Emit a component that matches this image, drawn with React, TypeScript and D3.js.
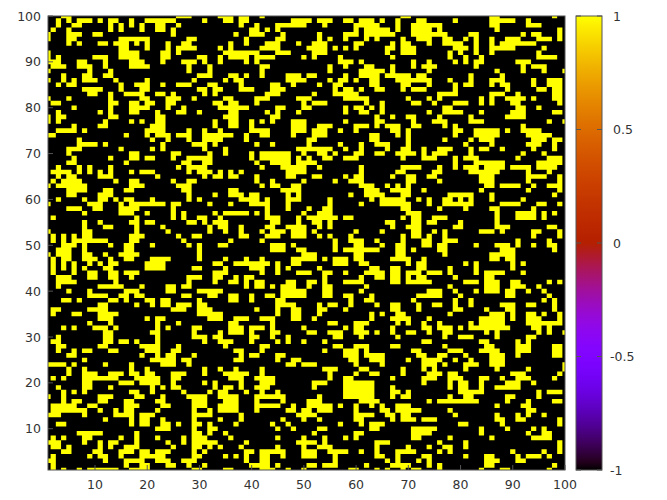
import React from "react";
import * as d3 from "d3";

// Cells equal to +1, listed per row from y=100 down to y=1, as x values or x ranges. All others are -1.
const onCells: string[] = [
"4-5 26-28 34-36 38-39 42 69-70 86-87 98",
"3 5 7-9 11 13-14 17 20-25 31 35-36 38-39 48-50 51 53-55 58-59 61-63 65 68 72-73 79 86-90 93",
"3 6-7 13 15 17 19 22-23 26 38 41 45-50 54 60-64 68 71-75 76 86-87 93-95",
"2 5 13 15 19 22-23 25 40-41 43 45 60 62-66 68 71-74 76 87 99",
"1 5-7 10-11 25 37 40-42 46 53 58-60 62-67 71-75 76-77 82-83 92 94-95 99",
"1 5-6 15-20 28-29 39 45-46 53 55 58 62 64 69 72-74 77-78 81 83 86 89-91 95-97 99",
"5 7 11-12 14-16 18 20 24 27-28 36 39 43-45 49 52-54 60-61 67 69-70 74 77-80 83 86 88-94",
"15-16 20 24 26-29 34 36 42-45 51 51-54 56 58 60 66-67 69-71 79-81 83 86-90 96",
"1 15-18 23-24 26 35-41 45-47 52-54 66 69-71 78 80 83 86 95",
"1 3 10-12 15-18 23-24 30-31 34 36-39 41-44 50 52 57 67 78 81 84 95-98",
"1-3 7-8 12 17-19 23 27-29 31 34 39 41 57-59 61 71 74 79 81 83-84 91-93",
"2-4 7-9 12 17-20 28 32 42-43 55 58 62-63 67 71 73-75 83 92 94-96",
"1 9 13 28 32 42 55 61-65 67 74 87 92 96 100",
"4 8-9 12-13 30-32 36-37 39 42 47-49 51-52 58 61-64 66-70 72-73 82 88",
"1 4 6 8-10 14 20 29 35 37-38 47-50 55 57-58 60 63-64 68-74 78 82 86-88 94 97-99",
"3 5-6 15 18-20 23 26-28 32-33 38 44-45 48 53 56-57 63-64 69-70 74 79 81-82 86 88-89 94 97-99",
"8-11 15 19-20 30-31 33-34 38-40 44-46 56 58-59 61 64-65 69 71-73 79 89 95-96 98-99",
"9-10 13 16-19 22-23 25 31 33 43-45 52 56-60 76-79 86-88 91 98-99",
"1 5 13 19-20 24-25 26 29 35-36 41-43 49-50 51 58-62 70 74 76 84 86 89-92 94 98-99",
"2-3 13-14 17-18 20-21 24-25 33-34 36-37 41 50 52-54 62 65 71-72 75 79-81 84 86 90-91 99",
"6 13 17-20 24 27 34-39 45-46 50 51 58 60-61 63 65 77-78 91-92 95",
"3 11 13 17-18 22 26-27 30 36-37 43 45 49 58 61-62 65 74 77-80 84 90-92 98-99",
"1 3-4 13-14 22-23 35-37 44-45 64 67 70-71 76 82 89-92",
"1 3 12 17 19 22-23 33 36-37 40 42 44 48-50 58 64-65 71 75 76-77 82-84 97 100",
"6 11-12 21-23 33 36-37 40 48-50 53-55 60-62 64 66-68 71-72 77 79 92",
"3-6 8 20-23 28 31 34 40-43 48-50 52-54 57 60 67-68 70 79-80 83-87 89 92-95",
"1-2 16 20 22-24 26-28 31-36 39 42-43 48 52-54 63-64 68 70 79 83-87 93-97",
"7 21 24 28 31-34 39 51-52 63-64 70 77 82 84-86 94-96 98-99",
"7-10 12 23 29-31 33 41 44 51 57 61 64-66 70 81 86 93-95 98",
"5-7 15 21 23 31 35 49-50 51-55 58 61 66 69-70 73 76-78 82 84-85 88 94 98",
"5 17-18 25-26 32 35 40 42-47 50 53-54 56 60-61 64-65 68-71 73 75-77 82 92 96",
"6 13 17-18 20-21 25 28-32 40 42-47 49 51 54-55 58-60 69 73-75 79 81-83 91 97-99",
"5-6 16 27-28 31-32 41 44-47 49-50 51-52 79 83-88 95-99",
"3 7 9 13 26 28-31 42 46-50 53 61 69-72 76 79 81-83 85-88 90-93 95-98",
"2-5 7 9 11 13 17 19-21 28 30-32 34 36 38 47-50 61 68-69 75-76 82-87 93 97",
"3 5-6 11-13 22 31 33-34 36-37 41 47-48 52-53 58 60-61 67 70-71 74-75 84-86 93-96 99",
"2 4-7 14 17-18 25 28-29 41 44 50 56 59-61 70-71 76 84-86 93 99",
"1 3-8 17-19 26-28 42 44-45 48-49 61-63 66 68 70 85-86 88-91 94 97-99",
"5-8 12-13 16-17 27-28 36-37 46-49 62-64 67-70 73 84 93 99",
"5-6 11-13 28 33 36-38 40-41 47 49 59 62-65 69-70 78-82 86 98",
"3 8 11-12 14 16-17 21 28 30 38-41 43 47-49 55 63 65-69 72 74 77-78 80 82 86 92",
"1 9-11 15 17-23 25 26 32 36 40-43 47 55 61 65-70 74 77-82 88-91 95-96 99",
"5-7 10-11 15-18 25 43 47 51 54-55 69-70 76 81 86-87 94",
"8 15-17 20 25 27 33 35-39 41 43 50 53-55 70-72 87 91-94 96 98",
"2 18 25 27 30-31 34 43-45 49 51-56 58-59 69 71-72 75-77 87 91-94 96",
"8 11 17-18 20-21 28-29 31 33-35 44-45 49 52-53 55 66-67 71-72 74-75 80 87",
"8 12-13 18 23 32 34-35 38 43-44 47-50 53 55 67 70-72 79-80 87-89 97-98",
"1 8-9 18 24 32 35 38 42 44-46 48-50 52 60 65 71-72 75 77 84-86 88 94-95 99",
"2 4 6 8-9 17-19 26 29-30 38-39 43-45 48-50 53 55 59 69 71-72 74 77 94 99",
"2 4 6-12 17-18 27 36 42 56 59-61 64 69 73-74 77-79 91 97",
"4-6 8 13 16-17 21 28 30 34-35 44-46 48 56 60-61 65 68-69 73-74 76-77 83 87-89 91 94 97-98",
"3-5 8 16-17 30 44-46 49-50 56 58-64 68-69 71 76-77 88-90 98",
"1 3-5 8-9 12 15-18 30 50 51-52 60-61 68-69 77 86-90",
"2 4-5 8-10 13 16-17 21-24 30 35 39 42 48-50 51-52 54 56-58 60-61 67-70 73 86-87 89-90",
"2 4 6 9 11 13-14 20-23 33-34 37-43 45 48-49 56-58 61-62 70 72-73 81 83 90 92",
"2 4 6 8 12-13 20-23 29-30 35 40-42 45 47 53 63-64 67-68 72-73 78 83 90",
"2 6 9-10 13-14 16-18 33-35 42 45 49-50 51 54-55 58 62-65 67-68 70-72 74-76 78 83 85-88 92",
"3-5 9-10 13-14 17 28-30 33-34 37 39-40 54 61 64-65 67-68 70 72-73 79 85-86",
"3-6 14 28 33 36-37 39 41-42 47-48 51-52 54 58-61 67-68 70-74 81-83 85-87 90-91 97 99",
"3 11-15 19 24-25 27-28 39 41-42 44 46-48 51 54-55 62 78 85-87 90-92 95",
"5 9 16-18 24-25 30-34 46-50 54-55 61 74-76 79 83 85-87 89-90 93 96",
"9-12 15-16 18-19 27-28 32-33 36-37 40 43-44 46-50 54-55 58-59 63 72-76 80 89-90 97",
"4-5 7 13-14 16 20-21 23-24 30 36-37 40 45-46 59 62-63 71 79 82 96 98",
"11-12 18 21 23-24 26-28 30-31 45-48 53 55-56 59 64 67-68 72 75-76 79 82 88-90 93-94 98",
"2-3 9-12 25-27 30-32 41 45 48-49 53-54 58 67-68 72 79-80 85 89-90 98",
"2 6-7 11-14 30-34 45 48-49 53 63 65 68-69 78 86-88 90 93-94 96 99",
"11-13 20 22-23 32-34 37-39 42-44 48-49 52 63 67-70 74 84-88 90 93-95 99",
"9 13 22 26 36-37 44 55-56 60-62 68 70 73 76 82 84-88 93-99",
"4 6 10-12 14 22 24 29-30 36-38 40-42 44 50 58 60-61 67 73-74 76-78 80 82-89 94-95 97",
"12-13 21-22 29 34 36-38 40 44-45 51-52 55-57 60-62 64 67 70-71 74 77-78 85 87 95 97 100",
"3 12-13 22 29-31 33-34 40-41 44 47 56-57 61 68 77 80-82 87 93-94",
"2-3 12-13 15-16 18 22 31 34-36 40 45 47 50 54 73-74 84-85 91 93",
"3-4 11-12 19-22 26 35 42-43 56-57 60-62 67-68 77 85-86 91-93 98-99",
"3 6 8-9 13-14 20-22 25-26 37-38 42 54 58-60 62 71-72 78-80 84-87 91-93 98-99",
"5-6 19 22 24-25 29 38 40-41 45-46 58-60 62-65 72-73 76-77 81 86-88 91 98-99",
"8 21-25 27-28 37-38 45 48-49 59-60 63-65 70 73-76 79 82 86-88",
"1-4 6 12 17 23-25 28 47-48 50 51-52 60 65 73-75 77 81-83 86-88 100",
"5 8 17 20 31 34 37 42 54-56 61-62 69 73 75 81 87 93 100",
"5 8-10 13-15 17-18 20-21 25-27 31 35-39 42 55 60 63-64 69 74-76 78-79 90-92 99",
"2 4 8-14 18-22 25-26 36-38 41-44 55 58-59 67 73-75 78-80 84-85 88 91-93 98",
"8-9 15-17 19-22 25 31 33 38 42-44 52-54 58-63 73 78 80-81 84 89-91 94",
"3 8-9 13 21 23 25-26 33 35-36 38 41-43 52 58-63 67 78 80-81 84 87-91",
"4 6 8 17-18 21 27 32 34-35 39 42 45 58-63 67-68 70 80-84 95 97-99",
"1 4 11-13 18-19 23 28-31 34-37 41-46 53 58-63 67 69-70 78 81-82 89-90 95",
"4 6-7 11-12 16-17 22-23 29-31 35-37 41 46 51-53 61-64 74 76-83 89 93 98-99",
"2-6 9-10 16-18 23-24 29-31 34-37 41-45 48 51-55 57 60 63 65 68-70 87 92-93",
"2-8 11 14 16-17 22 29 32 34-37 41 47-48 50-51 53-55 60 65-66 68-72 78 93-94",
"1-3 8 14-17 19-21 29-32 38 49-52 60-63 66-67 69-70 79 87 91 93 96",
"12 17 19-20 23 29 34 38 46 50 53 60-61 67 69-71 73-75 87-88 91-92 99",
"3-4 17 19-20 23-24 26 29-30 32 37 44 47 57 61 63-65 80-81 88 99",
"22-24 29 32-33 45 48 53-54 63-64 71-75 84 89 94 96",
"7-11 18 29-30 32 35 52 60-61 71-74 84 93 96-97",
"2 4 8-9 15 18 22 27 29-31 36 45 50 54 58 60 71-72 78 86 94-97",
"1-3 8 11 13-14 18 24 27 29-33 39 49-52 54 64-66 76 81 99",
"2-3 5 11 13 16-18 25 29-30 32 34 38 45 50 53-55 64 70 74 77-78 81 99",
"4-5 10-11 15-17 19-20 22-24 29 31 39-40 42-46 50-52 55-58 61 64 68-71 76 78 90 96 99",
"2 9 11-12 15 19-23 29-30 35 37 39 42-43 46 50-52 56 64-65 68 73-74 81 85-86 91 93-95 97",
"1-2 12 16-19 22-24 27-29 39 42-43 56 66 68 72 74 85-87 91-92",
"2 16 19-20 24-25 28 31 40-43 45 51-52 54-56 62 67-70 74 76 85-86 98",
"2 4 7 9-14 17-20 29-30 35-36 42-44 47 50 59-60 64 66 69 71-72 76 84 88-89 97",
];
const xTicks = [10, 20, 30, 40, 50, 60, 70, 80, 90, 100];
const yTicks = [10, 20, 30, 40, 50, 60, 70, 80, 90, 100];
const cbTicks = [-1, -0.5, 0, 0.5, 1];
const cbStops = d3.range(0, 65);

const left = 48, right = 565, top = 16, bottom = 470;
const cbLeft = 576, cbRight = 602;
const font = "'DejaVu Sans', sans-serif";
const fontSize = 12.5;
const textColor = "#333";
const borderColor = "#555";

// gnuplot's default pm3d palette (rgbformulae 7,5,15)
const palette = (g: number) => {
  const r = Math.sqrt(g), gg = g * g * g, b = Math.max(0, Math.sin(2 * Math.PI * g));
  return d3.rgb(r * 255, gg * 255, b * 255).formatRgb();
};

export default function App() {
  const x = d3.scaleLinear().domain([1, 100]).range([left, right]);
  const y = d3.scaleLinear().domain([1, 100]).range([bottom, top]);
  const cb = d3.scaleLinear().domain([-1, 1]).range([bottom, top]);
  const p = d3.path();
  onCells.forEach((row, i) => {
    const yv = 100 - i;
    row.split(" ").forEach((s) => {
      const [a, b] = s.split("-").map(Number);
      const x0 = x(Math.max(1, a - 0.5));
      const x1 = x(Math.min(100, (b ?? a) + 0.5));
      const y0 = y(Math.min(100, yv + 0.5));
      const y1 = y(Math.max(1, yv - 0.5));
      p.rect(x0, y0, x1 - x0, y1 - y0);
    });
  });
  return (
    <svg width={667} height={500} style={{ position: "absolute", left: 0, top: 0, display: "block" }} fontFamily={font} fontSize={fontSize}>
      <defs>
        <linearGradient id="cbGrad" x1="0" y1="1" x2="0" y2="0">
          {cbStops.map((s) => (
            <stop key={s} offset={s / 64} stopColor={palette(s / 64)} />
          ))}
        </linearGradient>
      </defs>
      <rect width={667} height={500} fill="#fff" />
      <rect x={left} y={top} width={right - left} height={bottom - top} fill="#000" />
      <path d={p.toString()} fill="#ffff00" />
      <rect x={left} y={top} width={right - left} height={bottom - top} fill="none" stroke={borderColor} strokeWidth={1} />
      {xTicks.map((t) => (
        <g key={t}>
          <line x1={x(t)} x2={x(t)} y1={bottom} y2={bottom - 5} stroke={borderColor} />
          <text x={x(t)} y={bottom + 19} textAnchor="middle" fill={textColor}>{t}</text>
        </g>
      ))}
      {yTicks.map((t) => (
        <g key={t}>
          <line x1={left} x2={left + 5} y1={y(t)} y2={y(t)} stroke={borderColor} />
          <text x={41} y={y(t) + 4.5} textAnchor="end" fill={textColor}>{t}</text>
        </g>
      ))}
      <rect x={cbLeft} y={top} width={cbRight - cbLeft} height={bottom - top} fill="url(#cbGrad)" stroke={borderColor} strokeWidth={1} />
      {cbTicks.map((t) => (
        <g key={t}>
          <line x1={cbLeft} x2={cbLeft + 5} y1={cb(t)} y2={cb(t)} stroke={borderColor} />
          <line x1={cbRight} x2={cbRight - 5} y1={cb(t)} y2={cb(t)} stroke={borderColor} />
          <text x={t < 0 ? 610 : 613} y={cb(t) + 4.5} fill={textColor}>{t}</text>
        </g>
      ))}
    </svg>
  );
}
